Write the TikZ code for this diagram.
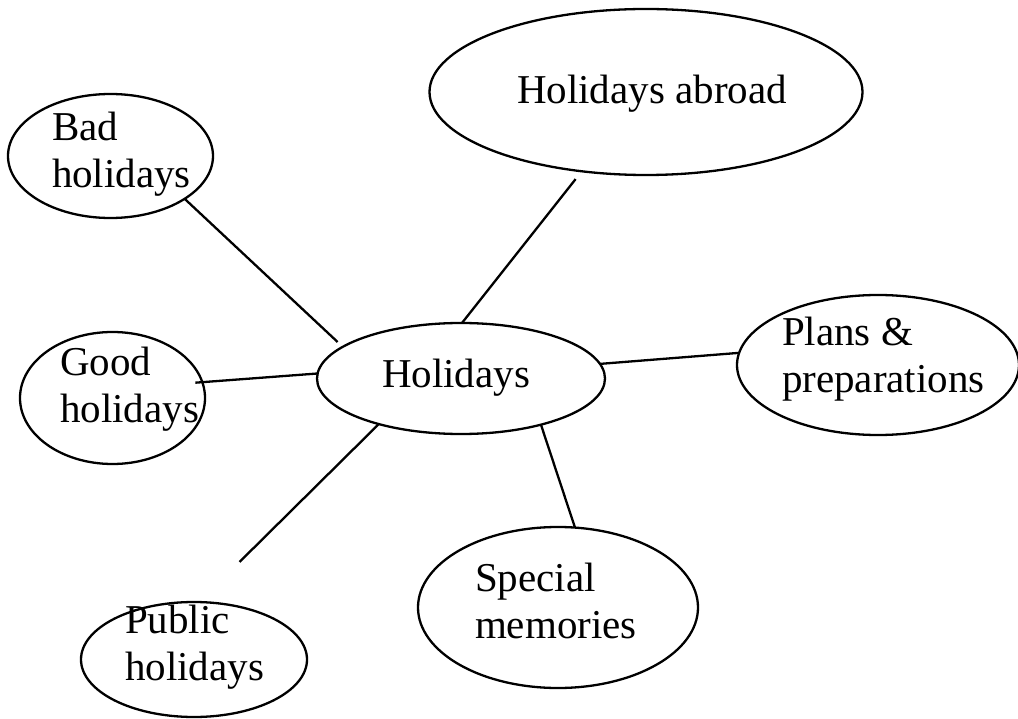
\documentclass[tikz,border=0pt]{standalone}
\usepackage{fontspec}
\setmainfont{Liberation Serif}
\usetikzlibrary{shapes.geometric}
\tikzset{
  bubble/.style={draw, ellipse, line width=2.3pt, inner sep=0pt, outer sep=0pt},
  txt/.style={anchor=base west, inner sep=0pt, outer sep=0pt, align=left, font=\fontsize{41}{47}\selectfont},
  link/.style={line width=2.3pt}
}
\begin{document}
\begin{tikzpicture}[x=1pt, y=-1pt]
\useasboundingbox (0,0) rectangle (1018,719);
% ellipses
\node[bubble, minimum width=433pt, minimum height=166pt] (abroad) at (646,92) {};
\node[bubble, minimum width=205pt, minimum height=124pt] (bad) at (110.5,156) {};
\node[bubble, minimum width=288pt, minimum height=111pt] (hol) at (461,378.5) {};
\node[bubble, minimum width=185pt, minimum height=132pt] (good) at (112.5,398) {};
\node[bubble, minimum width=282pt, minimum height=140pt] (plans) at (878,365) {};
\node[bubble, minimum width=280pt, minimum height=161pt] (special) at (558,607.5) {};
\node[bubble, minimum width=226pt, minimum height=115pt] (public) at (194,659.5) {};
% texts (base = baseline of the last line)
\node[txt] (tabroad) at (517,104) {Holidays abroad};
\node[txt] (tbad) at (52,188) {Bad\\holidays};
\node[txt] (thol) at (382,388) {Holidays};
\node[txt] (tgood) at (60,422) {Good\\holidays};
\node[txt] (tplans) at (782,392) {Plans \&\\preparations};
\node[txt] (tspecial) at (475,638) {Special\\memories};
\node[txt] (tpublic) at (125,680) {Public\\holidays};
% connectors
\draw[link, shorten >=7pt] (bad.-30) -- (hol.165);
\draw[link, shorten <=10pt] (abroad.-129) -- (hol.89);
\draw[link, shorten <=-7pt] (good.10) -- (hol.178);
\draw[link] (hol.6) -- (plans.175);
\draw[link] (hol.-30) -- (special.78);
\draw[link, shorten >=57pt] (hol.209) -- (public.85);
\end{tikzpicture}
\end{document}
